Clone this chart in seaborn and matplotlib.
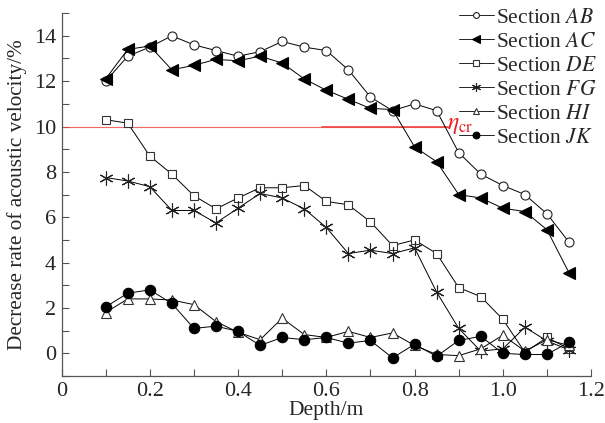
import matplotlib
matplotlib.use("Agg")
import matplotlib.pyplot as plt
import seaborn as sns
import numpy as np
from matplotlib.ticker import MultipleLocator

depth = [0.10, 0.15, 0.20, 0.25, 0.30, 0.35, 0.40, 0.45, 0.50, 0.55, 0.60,
         0.65, 0.70, 0.75, 0.80, 0.85, 0.90, 0.95, 1.00, 1.05, 1.10, 1.15]

sec_AB = [12.0, 13.1, 13.5, 14.0, 13.6, 13.35, 13.1, 13.3, 13.75, 13.5, 13.35,
          12.5, 11.3, 10.7, 11.0, 10.7, 8.85, 7.9, 7.4, 7.0, 6.15, 4.9]
sec_AC = [12.1, 13.4, 13.55, 12.5, 12.7, 12.96, 12.9, 13.1, 12.8, 12.1, 11.6,
          11.2, 10.8, 10.75, 9.1, 8.45, 7.0, 6.85, 6.4, 6.25, 5.45, 3.55]
sec_DE = [10.3, 10.15, 8.7, 7.9, 6.95, 6.37, 6.85, 7.3, 7.3, 7.4, 6.7,
          6.55, 5.8, 4.75, 5.0, 4.4, 2.9, 2.5, 1.5, 0.05, 0.7, 0.2]
sec_FG = [7.75, 7.6, 7.35, 6.3, 6.3, 5.75, 6.4, 7.05, 6.85, 6.37, 5.55,
          4.4, 4.55, 4.4, 4.65, 2.7, 1.1, 0.1, 0.2, 1.15, 0.55, 0.15]
sec_HI = [1.8, 2.4, 2.4, 2.35, 2.15, 1.4, 0.93, 0.6, 1.55, 0.83, 0.7,
          0.97, 0.7, 0.9, 0.35, -0.05, -0.1, 0.2, 0.8, 0.1, 0.6, 0.35]
sec_JK = [2.05, 2.65, 2.8, 2.2, 1.1, 1.2, 0.97, 0.35, 0.7, 0.6, 0.7,
          0.45, 0.57, -0.2, 0.4, -0.13, 0.57, 0.75, 0.0, -0.05, -0.05, 0.5]

labels = ["Section $AB$", "Section $AC$", "Section $DE$",
          "Section $FG$", "Section $HI$", "Section $JK$"]
eta_cr = 10.0

sns.set_theme(style="ticks")
plt.rcParams["font.family"] = ["Liberation Serif", "DejaVu Serif"]
plt.rcParams["mathtext.fontset"] = "stix"

fig = plt.figure(figsize=(6.05, 4.23), dpi=100)
ax = fig.add_axes([0.1017, 0.111, 0.8753, 0.858])

styles = [
    dict(marker="o", ms=6.5, mfc="white", mec="#222222"),
    dict(marker="<", ms=8.5, mfc="black", mec="black"),
    dict(marker="s", ms=6.0, mfc="white", mec="#333333"),
    dict(marker=(6, 2, 0), ms=10.0, mfc="black", mec="#222222"),
    dict(marker="^", ms=7.5, mfc="white", mec="#333333"),
    dict(marker="o", ms=7.5, mfc="black", mec="black"),
]
series = [sec_AB, sec_AC, sec_DE, sec_FG, sec_HI, sec_JK]

# critical threshold line
red = "#ee4444"
ax.plot([0, 0.875], [eta_cr, eta_cr], color=red, lw=0.8, alpha=0.8, zorder=1)
ax.plot([0.59, 0.875], [eta_cr, eta_cr], color=red, lw=1.2, zorder=1)
ax.text(0.874, eta_cr - 0.4, r"$\eta_{\rm cr}$", color="#e81c1c",
        fontsize=17, ha="left", va="bottom")

for vals, lab, st in zip(series, labels, styles):
    sns.lineplot(x=depth, y=vals, ax=ax, color="black", lw=0.7,
                 marker=st["marker"], markersize=st["ms"],
                 markerfacecolor=st["mfc"], markeredgecolor=st["mec"],
                 markeredgewidth=0.8, label=lab, sort=False, zorder=3)

ax.set_xlim(0, 1.2)
ax.set_ylim(-1, 15)
ax.xaxis.set_minor_locator(MultipleLocator(0.1))
ax.yaxis.set_minor_locator(MultipleLocator(1))
ax.set_yticks(np.arange(0, 15, 2))
ax.set_xticks(np.arange(0, 1.21, 0.2))
ax.set_xticklabels(["0", "0.2", "0.4", "0.6", "0.8", "1.0", "1.2"])
ax.tick_params(axis="both", which="both", direction="in", labelsize=16,
               color="#555555", width=0.8, length=5)
ax.tick_params(axis="x", pad=4)
ax.tick_params(axis="y", pad=4)
for s in ["top", "right"]:
    ax.spines[s].set_visible(False)
for s in ["left", "bottom"]:
    ax.spines[s].set_color("#555555")
    ax.spines[s].set_linewidth(0.9)

ax.set_xlabel("Depth/m", fontsize=15.5, labelpad=0)
ax.set_ylabel("Decrease rate of acoustic velocity/%", fontsize=15.3, labelpad=5)

leg = ax.legend(loc="upper right", bbox_to_anchor=(1.035, 1.05), frameon=False,
                fontsize=15.5, markerscale=0.65, handlelength=1.6,
                handletextpad=0.1, labelspacing=0.18, borderaxespad=0.2)
for line in leg.get_lines():
    line.set_linewidth(0.6)

fig.savefig("out.png", dpi=100)
